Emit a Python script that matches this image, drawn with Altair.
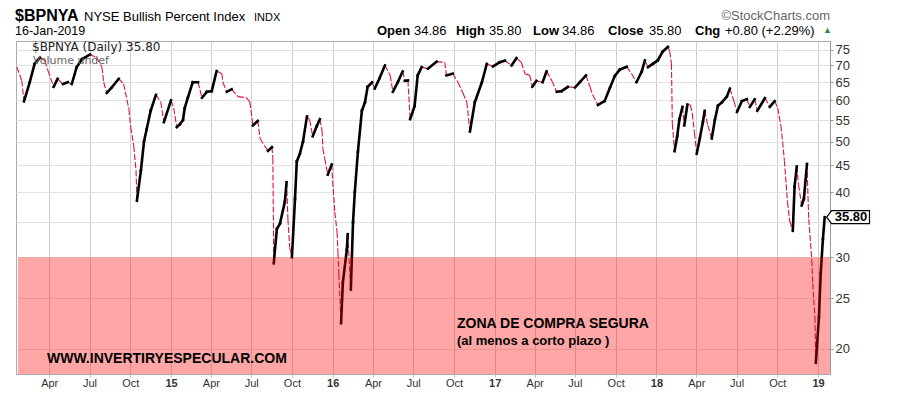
import altair as alt
import pandas as pd

# ---------------- data ----------------
dates = [
    "2014-01-18", "2014-01-29", "2014-02-03", "2014-02-16", "2014-02-27", "2014-03-11", "2014-03-22",
    "2014-03-29", "2014-04-11", "2014-04-20", "2014-05-02", "2014-05-13", "2014-05-22", "2014-06-02",
    "2014-06-14", "2014-07-02", "2014-07-17", "2014-07-29", "2014-08-02", "2014-08-09", "2014-08-20",
    "2014-09-05", "2014-09-16", "2014-09-28", "2014-10-02", "2014-10-09", "2014-10-14", "2014-10-16",
    "2014-10-25", "2014-11-01", "2014-11-07", "2014-11-16", "2014-11-28", "2014-12-09", "2014-12-16",
    "2015-01-01", "2015-01-07", "2015-01-14", "2015-01-21", "2015-01-28", "2015-02-01", "2015-02-08",
    "2015-02-19", "2015-03-03", "2015-03-12", "2015-03-23", "2015-04-03", "2015-04-14", "2015-04-26",
    "2015-04-28", "2015-05-07", "2015-05-18", "2015-06-01", "2015-06-21", "2015-06-28", "2015-07-05",
    "2015-07-16", "2015-07-21", "2015-08-01", "2015-08-08", "2015-08-17", "2015-08-19", "2015-08-21",
    "2015-08-28", "2015-09-04", "2015-09-15", "2015-09-19", "2015-09-22", "2015-09-26", "2015-10-01",
    "2015-10-08", "2015-10-12", "2015-10-19", "2015-10-26", "2015-11-04", "2015-11-10", "2015-11-17",
    "2015-11-26", "2015-12-03", "2015-12-08", "2015-12-10", "2015-12-14", "2015-12-21", "2015-12-30",
    "2016-01-01", "2016-01-06", "2016-01-11", "2016-01-13", "2016-01-15", "2016-01-20", "2016-01-24",
    "2016-02-02", "2016-02-04", "2016-02-09", "2016-02-11", "2016-02-16", "2016-02-20", "2016-02-27",
    "2016-03-07", "2016-03-14", "2016-03-20", "2016-03-30", "2016-04-05", "2016-04-16", "2016-04-28",
    "2016-05-10", "2016-05-16", "2016-05-27", "2016-06-07", "2016-06-12", "2016-06-19", "2016-06-24",
    "2016-07-04", "2016-07-11", "2016-07-20", "2016-08-03", "2016-08-23", "2016-09-10", "2016-09-14",
    "2016-09-28", "2016-10-10", "2016-10-21", "2016-10-30", "2016-11-06", "2016-11-17", "2016-12-03",
    "2016-12-14", "2016-12-28", "2017-01-12", "2017-01-24", "2017-02-08", "2017-02-19", "2017-03-02",
    "2017-03-10", "2017-03-21", "2017-03-27", "2017-04-05", "2017-04-19", "2017-04-28", "2017-05-10",
    "2017-05-21", "2017-06-01", "2017-06-15", "2017-07-01", "2017-07-12", "2017-07-26", "2017-08-04",
    "2017-08-10", "2017-08-22", "2017-09-06", "2017-09-18", "2017-09-29", "2017-10-10", "2017-10-26",
    "2017-11-06", "2017-11-17", "2017-11-29", "2017-12-06", "2017-12-13", "2017-12-24", "2018-01-04",
    "2018-01-15", "2018-01-27", "2018-01-31", "2018-02-04", "2018-02-06", "2018-02-11", "2018-02-17",
    "2018-02-22", "2018-03-01", "2018-03-05", "2018-03-12", "2018-03-19", "2018-03-23", "2018-03-28",
    "2018-04-02", "2018-04-09", "2018-04-16", "2018-04-20", "2018-04-27", "2018-05-06", "2018-05-13",
    "2018-05-20", "2018-05-29", "2018-06-09", "2018-06-16", "2018-06-25", "2018-07-02", "2018-07-13",
    "2018-07-24", "2018-07-31", "2018-08-11", "2018-08-17", "2018-09-03", "2018-09-14", "2018-09-25",
    "2018-10-02", "2018-10-09", "2018-10-13", "2018-10-17", "2018-10-24", "2018-10-29", "2018-11-05",
    "2018-11-09", "2018-11-14", "2018-11-18", "2018-11-25", "2018-11-30", "2018-12-07", "2018-12-11",
    "2018-12-18", "2018-12-20", "2018-12-25", "2018-12-27", "2019-01-03", "2019-01-07", "2019-01-12",
    "2019-01-16",
]
values = [
    69.5, 65.5, 59.7, 65.0, 70.5, 72.5, 71.5,
    68.5, 63.7, 66.0, 64.5, 65.0, 64.5, 69.5,
    72.0, 73.5, 72.5, 69.5, 65.0, 62.0, 63.5,
    66.0, 64.5, 57.7, 53.3, 49.0, 44.0, 38.5,
    44.0, 50.0, 52.8, 57.3, 61.5, 59.5, 54.5,
    60.0, 58.0, 53.3, 54.0, 55.0, 58.0, 60.7,
    65.0, 65.0, 60.7, 62.3, 62.5, 68.3, 67.5,
    65.0, 62.3, 63.0, 61.0, 60.7, 59.5, 53.7,
    54.8, 50.7, 49.0, 48.0, 48.8, 46.4, 29.2,
    34.0, 34.8, 38.3, 41.8, 35.5, 31.3, 30.0,
    38.8, 45.8, 47.4, 50.0, 55.9, 55.0, 51.2,
    53.5, 55.2, 52.5, 48.5, 46.4, 43.2, 45.2,
    42.0, 36.6, 33.5, 30.6, 27.8, 22.4, 26.8,
    31.0, 33.2, 27.9, 26.0, 35.0, 40.0, 47.8,
    57.3, 59.5, 63.7, 65.0, 63.2, 66.2, 70.0,
    67.0, 62.3, 65.0, 68.2, 65.4, 65.5, 55.2,
    58.5, 67.0, 69.5, 69.0, 71.2, 71.0, 67.0,
    67.5, 65.0, 62.0, 59.5, 52.3, 59.5, 65.0,
    70.5, 69.7, 71.0, 71.5, 70.0, 72.3, 71.0,
    67.5, 67.0, 63.7, 65.4, 65.0, 68.2, 65.4,
    62.3, 62.5, 63.7, 63.5, 65.0, 67.0, 63.7,
    61.5, 58.8, 59.8, 63.4, 66.8, 68.7, 69.6,
    67.5, 65.0, 68.2, 71.6, 69.5, 70.5, 71.6,
    74.4, 76.0, 74.5, 70.5, 54.1, 47.9, 51.2,
    55.2, 58.3, 53.7, 58.9, 58.8, 56.6, 52.0,
    47.4, 50.7, 54.5, 57.3, 53.7, 50.7, 55.0,
    58.6, 59.5, 61.0, 63.2, 59.8, 57.0, 59.8,
    60.3, 58.3, 60.3, 57.3, 60.6, 58.3, 59.8,
    58.0, 53.7, 50.0, 46.0, 38.3, 35.2, 33.7,
    41.0, 44.8, 41.3, 37.7, 38.8, 45.3, 35.5,
    29.6, 26.7, 23.0, 18.8, 23.0, 27.9, 32.5,
    35.8,
]

y_ticks = [20, 25, 30, 35, 40, 45, 50, 55, 60, 65, 70, 75]
x_ticks = [(2014, 4), (2014, 7), (2014, 10), (2015, 1), (2015, 4), (2015, 7), (2015, 10),
           (2016, 1), (2016, 4), (2016, 7), (2016, 10), (2017, 1), (2017, 4), (2017, 7),
           (2017, 10), (2018, 1), (2018, 4), (2018, 7), (2018, 10), (2019, 1)]
zone_low, zone_high = 17.9, 30

header_title = "$BPNYA"
header_name = "NYSE Bullish Percent Index"
header_date = "16-Jan-2019"
last_close = "35.80"

# ---------------- build ----------------
W, H = 814, 333
d = pd.to_datetime(pd.Series(dates))
seg = pd.DataFrame({"d0": d[:-1].values, "d1": d[1:].values,
                    "v0": values[:-1], "v1": values[1:]})
seg["dir"] = ["up" if b >= a else "down" for a, b in zip(seg.v0, seg.v1)]
up = seg[seg.dir == "up"]
down = seg[seg.dir == "down"]

xscale = alt.Scale(domain=[alt.DateTime(year=2014, month=1, date=16),
                           alt.DateTime(year=2019, month=1, date=28)])
yscale = alt.Scale(type="log", domain=[zone_low, 78], nice=False)

xaxis = alt.Axis(
    values=[alt.DateTime(year=y, month=m, date=1) for y, m in x_ticks],
    labelExpr="month(datum.value) == 0 ? timeFormat(datum.value, '%y') : timeFormat(datum.value, '%b')",
    labelFont="Liberation Sans", labelFontSize=11, labelColor="#333",
    labelFontWeight={"condition": {"test": "month(datum.value) == 0", "value": "bold"}, "value": "normal"},
    grid=True, gridColor="#cfcfcf", gridWidth=1,
    tickSize=3, tickColor="#bbb", labelPadding=0, domain=False, title=None,
)
yaxis = alt.Axis(
    orient="right", values=y_ticks,
    labelExpr="datum.value == 35 ? '' : datum.label",
    labelFont="Liberation Sans", labelFontSize=13, labelColor="#333",
    grid=True, gridColor="#e2e2e2", gridWidth=1,
    tickSize=3, tickColor="#999", labelPadding=2, domainColor="#999", title=None,
)

down_layer = alt.Chart(down).mark_rule(color="#dc143c", strokeWidth=1.1, strokeDash=[6, 2]).encode(
    x=alt.X("d0:T", scale=xscale, axis=xaxis, title=None), x2="d1:T",
    y=alt.Y("v0:Q", scale=yscale, axis=yaxis, title=None), y2="v1:Q",
)
up_layer = alt.Chart(up).mark_rule(color="black", strokeWidth=2.6, strokeCap="square").encode(
    x=alt.X("d0:T"), x2="d1:T", y=alt.Y("v0:Q"), y2="v1:Q",
)

zone = alt.Chart(pd.DataFrame({"lo": [zone_low], "hi": [zone_high]})).mark_rect(
    color="#ff0000", opacity=0.35).encode(
    x=alt.value(2), x2=alt.value(W), y=alt.Y("hi:Q"), y2="lo:Q")


def txt(s, x, y, size=13, weight="normal", color="#000", align="left",
        font="Liberation Sans", baseline="middle"):
    return alt.Chart(pd.DataFrame({"t": [s]})).mark_text(
        align=align, baseline=baseline, fontSize=size, fontWeight=weight, color=color, font=font
    ).encode(x=alt.value(x), y=alt.value(y), text="t:N")


last = pd.DataFrame({"value": [values[-1]], "t": [last_close]})
tag_box = alt.Chart(last).mark_point(
    shape="M-1.25,0 L-1,-0.34 L1,-0.34 L1,0.34 L-1,0.34 Z", size=1444,
    filled=True, fill="white", stroke="black", strokeWidth=1.2, opacity=1
).encode(x=alt.value(834.5), y=alt.Y("value:Q"))
tag_text = alt.Chart(last).mark_text(
    font="Liberation Sans", fontSize=13, fontWeight="bold", color="black", align="center", baseline="middle"
).encode(x=alt.value(835), y=alt.Y("value:Q"), text="t:N")

texts = [
    txt(header_title, -1, -20, size=16, weight="bold", baseline="alphabetic"),
    txt(header_name, 68, -20, size=13, baseline="alphabetic"),
    txt("INDX", 238, -20, size=11, baseline="alphabetic"),
    txt("\u00a9StockCharts.com", 814, -21, size=13, color="#666", align="right", baseline="alphabetic"),
    txt(header_date, -1, -10, size=12.5),
    txt("Open", 361, -10, weight="bold"), txt("34.86", 398, -10),
    txt("High", 440, -10, weight="bold"), txt("35.80", 473, -10),
    txt("Low", 517, -10, weight="bold"), txt("34.86", 546, -10),
    txt("Close", 592, -10, weight="bold"), txt("35.80", 633, -10),
    txt("Chg", 679, -10, weight="bold"), txt("+0.80 (+2.29%)", 709, -10),
    txt("\u25b2", 807, -11, size=9, color="#2e8b3a"),
    txt("$BPNYA (Daily) 35.80", 16, 6, size=12, font="DejaVu Sans", color="#222"),
    txt("Volume undef", 17, 20, size=11, font="DejaVu Sans", color="#666"),
    txt("ZONA DE COMPRA SEGURA", 441, 283, size=14, weight="bold"),
    txt("(al menos a corto plazo )", 441, 300, size=13, weight="bold"),
    txt("WWW.INVERTIRYESPECULAR.COM", 31, 318, size=14, weight="bold"),
]

chart = alt.layer(down_layer, up_layer, zone, tag_box, tag_text, *texts).properties(
    width=W, height=H,
    autosize=alt.AutoSizeParams(type="none"),
    padding={"left": 8, "top": 33, "right": 70, "bottom": 22},
    background="white",
).configure_view(stroke="#aaa", strokeWidth=1)

chart.save("out.html", embed_options={"renderer": "svg", "actions": False})
